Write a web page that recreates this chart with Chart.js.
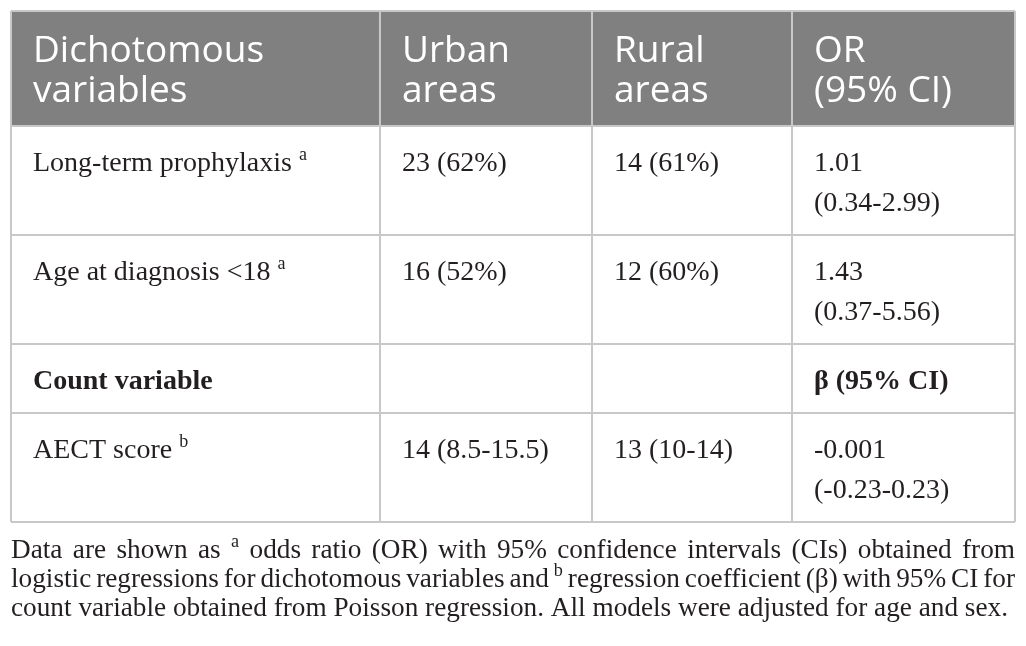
<!DOCTYPE html>
<html>
<head>
<meta charset="utf-8">
<script src="https://cdn.jsdelivr.net/npm/chart.js@4.4.1/dist/chart.umd.min.js"></script>
<style>
  html, body { margin: 0; padding: 0; background: #fff; }
  #wrap { width: 1026px; height: 646px; }
</style>
</head>
<body>
<div id="wrap"><canvas id="tableChart" width="1026" height="646"></canvas></div>
<script>
// Table content
const headers = [['Dichotomous', 'variables'], ['Urban', 'areas'], ['Rural', 'areas'], ['OR', '(95% CI)']];
const rowLabels = ['Long-term prophylaxis', 'Age at diagnosis <18', 'Count variable', 'AECT score'];
const rowNotes = ['a', 'a', '', 'b'];
const boldRows = [false, false, true, false];
const urbanValues = [['23 (62%)'], ['16 (52%)'], [], ['14 (8.5-15.5)']];
const ruralValues = [['14 (61%)'], ['12 (60%)'], [], ['13 (10-14)']];
const estimates = [['1.01', '(0.34-2.99)'], ['1.43', '(0.37-5.56)'], ['β (95% CI)'], ['-0.001', '(-0.23-0.23)']];

// footnote lines, '^' marks a superscript token
const footLines = [
    ['Data', 'are', 'shown', 'as', '^a', 'odds', 'ratio', '(OR)', 'with', '95%', 'confidence', 'intervals', '(CIs)', 'obtained', 'from'],
    ['logistic', 'regressions', 'for', 'dichotomous', 'variables', 'and', '^b', 'regression', 'coefficient', '(β)', 'with', '95%', 'CI', 'for'],
    ['count', 'variable', 'obtained', 'from', 'Poisson', 'regression.', 'All', 'models', 'were', 'adjusted', 'for', 'age', 'and', 'sex.']
];

// column edges as a share of the table width
const colEdges = [0, 0.3675, 0.5787, 0.7779, 1];

const HEAD_FONT = '37px "Open Sans"';
const BODY_FONT = '28px "Liberation Serif"';
const BOLD_FONT = 'bold 28px "Liberation Serif"';
const SUP_FONT = '18px "Liberation Serif"';
const FOOT_FONT = '27px "Liberation Serif"';
const FOOT_SUP = '18px "Liberation Serif"';
const headLine = 40, headPad = 17.5;
const bodyLine = 40, bodyPad = 14.5;

const bodyRows = rowLabels.map((label, i) => ({
    cells: [[label], urbanValues[i], ruralValues[i], estimates[i]],
    note: rowNotes[i],
    bold: boldRows[i]
}));

const rowHeights = [headers.reduce((m, h) => Math.max(m, h.length), 0) * headLine + headPad * 2]
    .concat(bodyRows.map(r => Math.max(1, ...r.cells.map(c => c.length)) * bodyLine + bodyPad * 2));
const totalHeight = rowHeights.reduce((a, b) => a + b, 0);

const tablePlugin = {
    id: 'tablePlugin',
    afterDraw(chart) {
        const ctx = chart.ctx;
        const xs = chart.scales.x, ys = chart.scales.y;
        const colX = colEdges.map(v => xs.getPixelForValue(v));
        const rowY = [ys.getPixelForValue(0)];
        let acc = 0;
        rowHeights.forEach(h => { acc += h; rowY.push(ys.getPixelForValue(acc)); });
        const padX = 22;

        ctx.save();
        // header band
        ctx.fillStyle = '#808080';
        ctx.fillRect(colX[0], rowY[0], colX[4] - colX[0], rowY[1] - rowY[0]);
        ctx.fillStyle = '#ffffff';
        ctx.font = HEAD_FONT;
        ctx.textBaseline = 'alphabetic';
        headers.forEach((lines, c) => {
            lines.forEach((t, k) => ctx.fillText(t, colX[c] + padX, rowY[0] + 51 + k * headLine));
        });

        // body cells
        ctx.fillStyle = '#231f20';
        bodyRows.forEach((row, r) => {
            const top = rowY[r + 1];
            row.cells.forEach((lines, c) => {
                lines.forEach((t, k) => {
                    ctx.font = row.bold ? BOLD_FONT : BODY_FONT;
                    const x = colX[c] + padX, y = top + 45 + k * bodyLine;
                    ctx.fillText(t, x, y);
                    if (c === 0 && row.note) {
                        const w = ctx.measureText(t + ' ').width;
                        ctx.font = SUP_FONT;
                        ctx.fillText(row.note, x + w, y - 11);
                    }
                });
            });
        });

        // grid lines
        ctx.strokeStyle = '#c8c8c8';
        ctx.lineWidth = 2;
        ctx.beginPath();
        rowY.forEach(y => { ctx.moveTo(colX[0], y); ctx.lineTo(colX[4], y); });
        colX.forEach(x => { ctx.moveTo(x, rowY[0]); ctx.lineTo(x, rowY[rowY.length - 1]); });
        ctx.stroke();

        // footnote, condensed and justified
        const left = colX[0], right = colX[4];
        ctx.font = FOOT_FONT;
        const last = footLines[footLines.length - 1];
        const lastW = last.reduce((s, w) => s + ctx.measureText(w).width, 0) + ctx.measureText(' ').width * (last.length - 1);
        const squeeze = (right - 7 - left) / lastW;
        footLines.forEach((words, li) => {
            const y = rowY[rowY.length - 1] + 36 + li * 29;
            const widths = words.map(w => {
                ctx.font = w[0] === '^' ? FOOT_SUP : FOOT_FONT;
                return ctx.measureText(w[0] === '^' ? w.slice(1) : w).width * squeeze;
            });
            ctx.font = FOOT_FONT;
            const space = ctx.measureText(' ').width * squeeze;
            const used = widths.reduce((a, b) => a + b, 0);
            const gap = li < footLines.length - 1 ? (right - left - used) / (words.length - 1) : space;
            let x = left;
            words.forEach((w, i) => {
                const sup = w[0] === '^';
                ctx.save();
                ctx.translate(x, sup ? y - 11 : y);
                ctx.scale(squeeze, 1);
                ctx.font = sup ? FOOT_SUP : FOOT_FONT;
                ctx.fillText(sup ? w.slice(1) : w, 0, 0);
                ctx.restore();
                x += widths[i] + gap;
            });
        });
        ctx.restore();
    }
};

new Chart(document.getElementById('tableChart').getContext('2d'), {
    type: 'scatter',
    data: { datasets: [{ data: [] }] },
    options: {
        responsive: false,
        animation: false,
        devicePixelRatio: 1,
        layout: { padding: { left: 11, right: 11, top: 11, bottom: 646 - 11 - totalHeight } },
        scales: {
            x: { type: 'linear', min: 0, max: 1, display: false },
            y: { type: 'linear', min: 0, max: totalHeight, reverse: true, display: false }
        },
        plugins: { legend: { display: false }, tooltip: { enabled: false } }
    },
    plugins: [tablePlugin]
});
</script>
</body>
</html>
